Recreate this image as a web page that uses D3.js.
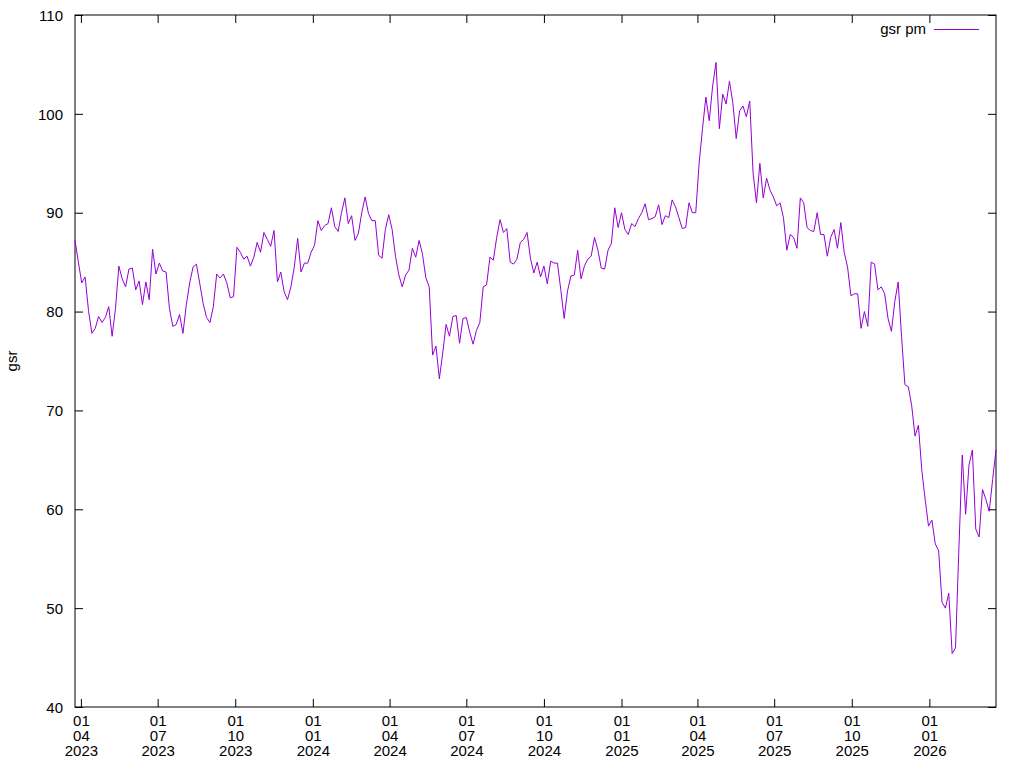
<!DOCTYPE html>
<html>
<head>
<meta charset="utf-8">
<script src="https://cdn.jsdelivr.net/npm/d3@7"></script>
<style>
  body { margin: 0; background: #fff; }
  svg text { font-family: "Liberation Sans", Arial, sans-serif; font-size: 15px; fill: #000; }
</style>
</head>
<body>
<div id="chart"></div>
<script>
// series: one value every 4 calendar days
let seriesName = "gsr pm";
let startDate = "2023-03-25";
let stepDays = 4;
let gsrValues = [
  87.2, 85.0, 82.9, 83.5, 80.1, 77.8, 78.3, 79.5, 78.9, 79.4,
  80.5, 77.5, 80.3, 84.6, 83.3, 82.5, 84.3, 84.4, 82.2, 83.1,
  80.7, 83.0, 81.2, 86.3, 83.8, 84.9, 84.1, 84.0, 80.3, 78.5,
  78.7, 79.7, 77.8, 80.7, 82.9, 84.5, 84.8, 82.8, 80.8, 79.4,
  78.9, 80.5, 83.8, 83.4, 83.8, 82.9, 81.4, 81.5, 86.5, 86.0,
  85.3, 85.6, 84.6, 85.5, 87.0, 86.0, 88.0, 87.3, 86.6, 88.2,
  83.0, 84.0, 82.0, 81.2, 82.5, 84.5, 87.4, 84.0, 84.9, 84.9,
  86.0, 86.7, 89.2, 88.2, 88.7, 88.9, 90.5, 88.6, 88.1, 90.0,
  91.5, 88.9, 89.7, 87.2, 87.9, 90.0, 91.6, 89.9, 89.2, 89.2,
  85.7, 85.4, 88.3, 89.8, 88.3, 85.6, 83.7, 82.5, 83.7, 84.2,
  86.4, 85.5, 87.2, 85.8, 83.4, 82.5, 75.6, 76.5, 73.2, 75.8,
  78.7, 77.5, 79.5, 79.6, 76.8, 79.3, 79.4, 77.9, 76.7, 78.1,
  78.9, 82.5, 82.7, 85.5, 85.2, 87.5, 89.3, 88.0, 88.4, 85.0,
  84.8, 85.3, 87.0, 87.3, 88.0, 85.4, 83.9, 85.0, 83.5, 84.6,
  82.8, 85.1, 84.9, 84.9, 82.2, 79.3, 82.1, 83.6, 83.7, 86.2,
  83.3, 84.6, 85.3, 85.6, 87.5, 86.2, 84.4, 84.3, 86.2, 86.9,
  90.5, 88.5, 90.0, 88.3, 87.8, 88.9, 88.6, 89.4, 90.0, 90.9,
  89.3, 89.4, 89.6, 90.8, 88.8, 89.7, 89.5, 91.3, 90.6, 89.5,
  88.4, 88.5, 91.0, 90.0, 90.0, 95.0, 98.5, 101.7, 99.3, 102.8,
  105.2, 98.5, 102.0, 101.0, 103.3, 101.1, 97.5, 100.3, 100.8, 99.7,
  101.3, 94.0, 91.0, 95.0, 91.5, 93.5, 92.3, 91.6, 90.7, 91.0,
  89.5, 86.2, 87.8, 87.5, 86.4, 91.5, 91.0, 88.5, 88.2, 88.1,
  90.0, 87.8, 87.8, 85.6, 87.5, 88.3, 86.4, 89.0, 86.0, 84.5,
  81.6, 81.8, 81.8, 78.3, 80.0, 78.5, 85.0, 84.8, 82.2, 82.5,
  81.8, 79.3, 78.0, 81.0, 83.0, 77.5, 72.6, 72.4, 70.5, 67.4,
  68.5, 64.0, 61.0, 58.3, 58.9, 56.5, 55.8, 50.6, 50.0, 51.5,
  45.4, 46.0, 56.0, 65.5, 59.5, 64.5, 66.0, 58.0, 57.2, 62.0,
  61.0, 59.8, 63.0, 66.0
];
let yTicks = [40, 50, 60, 70, 80, 90, 100, 110];
let xTickDates = [
  "2023-04-01", "2023-07-01", "2023-10-01", "2024-01-01", "2024-04-01", "2024-07-01",
  "2024-10-01", "2025-01-01", "2025-04-01", "2025-07-01", "2025-10-01", "2026-01-01"
];

// set the dimensions and margins of the graph
let margin = { top: 15, right: 28, bottom: 61, left: 75 },
  width = 1024 - margin.left - margin.right,
  height = 768 - margin.top - margin.bottom;

let svg = d3
  .select("#chart")
  .append("svg")
  .attr("width", width + margin.left + margin.right)
  .attr("height", height + margin.top + margin.bottom)
  .append("g")
  .attr("transform", "translate(" + margin.left + "," + margin.top + ")");

let parse = d3.utcParse("%Y-%m-%d");
let start = parse(startDate);
let data = gsrValues.map(function (v, i) {
  return { date: d3.utcDay.offset(start, i * stepDays), value: v };
});
let ticks = xTickDates.map(parse);

let x = d3.scaleUtc()
  .domain(d3.extent(data, function (d) { return d.date; }))
  .range([0, width]);
let y = d3.scaleLinear().domain([40, 110]).range([height, 0]);

// bottom axis, ticks pointing in, three line labels
let xAxis = svg.append("g")
  .attr("transform", "translate(0," + height + ")")
  .call(d3.axisBottom(x).tickValues(ticks).tickSize(-8).tickFormat(""));
xAxis.selectAll(".tick text").remove();
let fmt = [d3.utcFormat("%d"), d3.utcFormat("%m"), d3.utcFormat("%Y")];
xAxis.selectAll(".tick").each(function (d) {
  let t = d3.select(this).append("text")
    .attr("text-anchor", "middle")
    .attr("fill", "#000");
  fmt.forEach(function (f, k) {
    t.append("tspan").attr("x", 0).attr("y", 19 + k * 15).text(f(d));
  });
});

// top mirror ticks
svg.append("g")
  .call(d3.axisTop(x).tickValues(ticks).tickSize(-8).tickFormat(""));

// left axis
svg.append("g")
  .call(d3.axisLeft(y).tickValues(yTicks).tickSize(-8).tickPadding(12))
  .selectAll("text")
  .attr("dy", "0.35em");

// right mirror ticks
svg.append("g")
  .attr("transform", "translate(" + width + ",0)")
  .call(d3.axisRight(y).tickValues(yTicks).tickSize(-8).tickFormat(""));

svg.selectAll(".domain").remove();
svg.selectAll(".tick line").attr("stroke", "#000");

// border
svg.append("rect")
  .attr("width", width)
  .attr("height", height)
  .attr("fill", "none")
  .attr("stroke", "#000")
  .attr("stroke-width", 1);

// y label
svg.append("text")
  .attr("transform", "rotate(-90)")
  .attr("x", -height / 2)
  .attr("y", -58)
  .attr("text-anchor", "middle")
  .text("gsr");

// the series
svg.append("path")
  .datum(data)
  .attr("fill", "none")
  .attr("stroke", "#9400d3")
  .attr("stroke-width", 1)
  .attr("d", d3.line()
    .x(function (d) { return x(d.date); })
    .y(function (d) { return y(d.value); }));

// legend
svg.append("text")
  .attr("x", width - 70)
  .attr("y", 19)
  .attr("text-anchor", "end")
  .text(seriesName);
svg.append("line")
  .attr("x1", width - 62)
  .attr("x2", width - 17)
  .attr("y1", 14.5)
  .attr("y2", 14.5)
  .attr("stroke", "#9400d3")
  .attr("stroke-width", 1);
</script>
</body>
</html>
